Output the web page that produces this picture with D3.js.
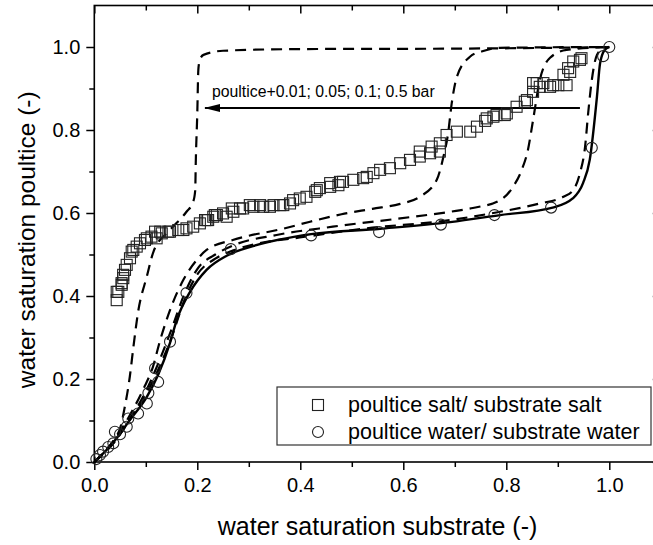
<!DOCTYPE html>
<html>
<head>
<meta charset="utf-8">
<script src="https://cdn.jsdelivr.net/npm/d3@7"></script>
<style>
html,body{margin:0;padding:0;background:#fff;}
text{font-family:"Liberation Sans",Arial,sans-serif;fill:#000;}
</style>
</head>
<body>
<svg id="chart" width="653" height="545"></svg>
<script>
// ---------- data ----------
const majorTicks = [0.0, 0.2, 0.4, 0.6, 0.8, 1.0];
const minorTicks = [0.1, 0.3, 0.5, 0.7, 0.9];
const tickLabels = ["0.0", "0.2", "0.4", "0.6", "0.8", "1.0"];

const xTitle = "water saturation substrate (-)";
const yTitle = "water saturation poultice (-)";
const legendLabels = ["poultice salt/ substrate salt", "poultice water/ substrate water"];
const annotation = "poultice+0.01; 0.05; 0.1; 0.5 bar";
const arrowFrom = [0.943, 0.853];
const arrowTo = [0.215, 0.853];

// poultice salt / substrate salt (squares)
const saltX = [0.0435,0.0466,0.0532,0.0563,0.0596,0.0629,0.0693,0.0726,0.0823,0.0887,0.0984,0.111,0.121,0.131,0.147,0.163,0.179,0.192,0.205,0.221,0.234,
  0.0435,0.053,0.056,0.0757,0.102,0.118,0.128,0.144,0.173,0.215,0.231,0.250,0.267,0.283,0.302,0.322,0.341,0.361,0.380,
  0.218,0.238,0.257,0.270,0.289,0.309,0.328,0.348,0.367,0.386,0.399,0.412,0.429,0.438,0.458,0.474,0.483,0.503,0.522,0.542,0.555,0.574,0.594,0.613,0.632,0.652,0.671,
  0.432,0.458,0.477,0.529,0.632,0.655,0.671,0.684,0.704,0.730,0.743,0.762,0.781,0.801,0.820,0.840,0.852,0.865,0.852,0.872,0.891,0.917,0.911,0.920,0.930,0.946,
  0.759,0.775,0.797,0.836,0.859,0.885,0.901,0.924,0.943];
const saltY = [0.390,0.410,0.427,0.443,0.463,0.475,0.491,0.507,0.519,0.527,0.535,0.543,0.539,0.551,0.555,0.559,0.563,0.567,0.575,0.583,0.595,
  0.410,0.431,0.451,0.511,0.539,0.555,0.555,0.555,0.559,0.583,0.591,0.599,0.611,0.611,0.619,0.619,0.615,0.619,0.623,
  0.583,0.595,0.591,0.603,0.611,0.615,0.615,0.619,0.619,0.631,0.635,0.639,0.651,0.660,0.663,0.667,0.675,0.680,0.684,0.696,0.704,0.708,0.720,0.728,0.736,0.744,0.748,
  0.655,0.672,0.675,0.687,0.748,0.760,0.768,0.788,0.796,0.796,0.808,0.828,0.836,0.840,0.856,0.872,0.892,0.904,0.913,0.913,0.908,0.908,0.933,0.949,0.965,0.973,
  0.822,0.832,0.836,0.868,0.913,0.904,0.908,0.940,0.969];

// poultice water / substrate water (circles)
const waterX = [0.004,0.011,0.017,0.027,0.037,0.040,0.050,0.063,0.066,0.085,0.102,0.105,0.118,0.124,0.147,0.179,0.265,0.421,0.553,0.673,0.777,0.887,0.966,0.988,1.0];
const waterY = [0.007,0.017,0.025,0.036,0.045,0.073,0.067,0.085,0.105,0.117,0.141,0.166,0.226,0.193,0.290,0.407,0.513,0.546,0.554,0.572,0.595,0.613,0.757,0.978,1.0];

// model: poultice water (solid)
const modelX = [0,0.036,0.069,0.102,0.124,0.147,0.16,0.186,0.218,0.257,0.308,0.421,0.555,0.691,0.788,0.89,0.929,0.949,0.962,0.976,0.982,0.991,1.0];
const modelY = [0,0.046,0.101,0.157,0.21,0.287,0.342,0.41,0.463,0.497,0.52,0.549,0.562,0.578,0.595,0.613,0.635,0.672,0.728,0.88,0.96,0.993,1.0];

// model: poultice + pressure (dashed), 0.5 / 0.1 / 0.05 / 0.01 bar
const dashA_X = [0,0.019,0.038,0.052,0.058,0.069,0.076,0.085,0.102,0.115,0.147,0.179,0.192,0.196,0.197,0.2,0.202,0.205,0.212,0.25,0.4,0.69,0.885,1.0];
const dashA_Y = [0,0.024,0.053,0.089,0.125,0.206,0.278,0.361,0.447,0.507,0.559,0.603,0.627,0.655,0.72,0.841,0.945,0.969,0.981,0.991,0.995,0.996,0.998,1.0];
const dashB_X = [0,0.04,0.07,0.095,0.114,0.128,0.147,0.173,0.199,0.218,0.269,0.366,0.419,0.48,0.54,0.594,0.632,0.665,0.678,0.687,0.694,0.704,0.73,0.752,0.788,1.0];
const dashB_Y = [0,0.055,0.115,0.175,0.23,0.294,0.366,0.439,0.487,0.511,0.535,0.562,0.579,0.597,0.61,0.622,0.639,0.68,0.736,0.792,0.864,0.928,0.977,0.989,0.998,1.0];
const dashC_X = [0,0.04,0.07,0.1,0.125,0.15,0.175,0.2,0.235,0.27,0.354,0.463,0.594,0.691,0.735,0.788,0.813,0.83,0.842,0.852,0.865,0.885,0.917,1.0];
const dashC_Y = [0,0.05,0.105,0.17,0.24,0.32,0.405,0.465,0.5,0.522,0.547,0.567,0.587,0.603,0.612,0.631,0.663,0.704,0.752,0.824,0.92,0.974,0.993,1.0];
const dashD_X = [0,0.04,0.07,0.1,0.125,0.15,0.175,0.2,0.235,0.27,0.32,0.399,0.529,0.691,0.775,0.865,0.911,0.93,0.943,0.953,0.959,0.966,0.976,0.99,1.0];
const dashD_Y = [0,0.05,0.105,0.162,0.225,0.3,0.39,0.452,0.49,0.51,0.527,0.541,0.563,0.583,0.6,0.623,0.639,0.655,0.696,0.76,0.841,0.92,0.981,0.998,1.0];

// ---------- chart ----------
const svg = d3.select("#chart");
const x = d3.scaleLinear().domain([0, 1.1]).range([94.3, 660.8]);
const y = d3.scaleLinear().domain([0, 1.1]).range([462, 5.5]);
const fmt = d => tickLabels[majorTicks.indexOf(d)] ?? "";

// frame
svg.append("rect").attr("x", x(0)).attr("y", y(1.1)).attr("width", x(1.1) - x(0)).attr("height", y(0) - y(1.1))
  .attr("fill", "none").attr("stroke", "#000").attr("stroke-width", 1.6);

function styleAxis(g) {
  g.select(".domain").remove();
  g.selectAll("line").attr("stroke", "#000").attr("stroke-width", 1.5);
  g.selectAll("text").attr("font-size", 20).attr("font-family", "Liberation Sans, Arial, sans-serif").attr("fill", "#000");
}
// bottom
svg.append("g").attr("transform", `translate(0,${y(0)})`)
  .call(d3.axisBottom(x).tickValues(majorTicks).tickSize(8).tickPadding(8).tickFormat(fmt)).call(styleAxis);
svg.append("g").attr("transform", `translate(0,${y(0)})`)
  .call(d3.axisBottom(x).tickValues(minorTicks).tickSize(5).tickFormat("")).call(styleAxis);
// left
svg.append("g").attr("transform", `translate(${x(0)},0)`)
  .call(d3.axisLeft(y).tickValues(majorTicks).tickSize(8).tickPadding(6).tickFormat(fmt)).call(styleAxis);
svg.append("g").attr("transform", `translate(${x(0)},0)`)
  .call(d3.axisLeft(y).tickValues(minorTicks).tickSize(5).tickFormat("")).call(styleAxis);
// top (inward)
svg.append("g").attr("transform", `translate(0,${y(1.1)})`)
  .call(d3.axisTop(x).tickValues(majorTicks).tickSize(-8).tickFormat("")).call(styleAxis);
svg.append("g").attr("transform", `translate(0,${y(1.1)})`)
  .call(d3.axisTop(x).tickValues(minorTicks).tickSize(-5).tickFormat("")).call(styleAxis);
// right (inward)
svg.append("g").attr("transform", `translate(${x(1.1)},0)`)
  .call(d3.axisRight(y).tickValues(majorTicks).tickSize(-8).tickFormat("")).call(styleAxis);
svg.append("g").attr("transform", `translate(${x(1.1)},0)`)
  .call(d3.axisRight(y).tickValues(minorTicks).tickSize(-5).tickFormat("")).call(styleAxis);

// titles
svg.append("text").attr("x", (x(0) + x(1.1)) / 2).attr("y", 535).attr("text-anchor", "middle")
  .attr("font-size", 25).text(xTitle);
svg.append("text").attr("transform", `translate(35,${(y(0) + y(1.1)) / 2 + 6}) rotate(-90)`).attr("text-anchor", "middle")
  .attr("font-size", 24.5).text(yTitle);

// curves
const line = d3.line().x(d => x(d[0])).y(d => y(d[1])).curve(d3.curveMonotoneX);
const zip = (a, b) => a.map((v, i) => [v, b[i]]);
const dashed = [[dashA_X, dashA_Y], [dashB_X, dashB_Y], [dashC_X, dashC_Y], [dashD_X, dashD_Y]];
svg.append("g").selectAll("path").data(dashed).join("path")
  .attr("d", d => line(zip(d[0], d[1])))
  .attr("fill", "none").attr("stroke", "#000").attr("stroke-width", 2.2).attr("stroke-dasharray", "11,7");
svg.append("path").attr("d", line(zip(modelX, modelY)))
  .attr("fill", "none").attr("stroke", "#000").attr("stroke-width", 2.4);

// arrow + annotation
svg.append("defs").append("marker").attr("id", "ah").attr("viewBox", "0 0 16 8").attr("refX", 15).attr("refY", 4)
  .attr("markerWidth", 16).attr("markerHeight", 8).attr("markerUnits", "userSpaceOnUse").attr("orient", "auto")
  .append("path").attr("d", "M0,0 L16,4 L0,8 Z").attr("fill", "#000");
svg.append("line").attr("x1", x(arrowFrom[0])).attr("y1", y(arrowFrom[1])).attr("x2", x(arrowTo[0])).attr("y2", y(arrowTo[1]))
  .attr("stroke", "#000").attr("stroke-width", 2).attr("marker-end", "url(#ah)");
svg.append("text").attr("x", 212).attr("y", 97).attr("font-size", 15.8).text(annotation);

// points
const sq = 11;
svg.append("g").selectAll("rect").data(zip(saltX, saltY)).join("rect")
  .attr("x", d => x(d[0]) - sq / 2).attr("y", d => y(d[1]) - sq / 2).attr("width", sq).attr("height", sq)
  .attr("fill", "none").attr("stroke", "#222").attr("stroke-width", 1.1);
svg.append("g").selectAll("circle").data(zip(waterX, waterY)).join("circle")
  .attr("cx", d => x(d[0])).attr("cy", d => y(d[1])).attr("r", 5.5)
  .attr("fill", "none").attr("stroke", "#222").attr("stroke-width", 1.1);

// legend
const lg = svg.append("g");
lg.append("rect").attr("x", 277).attr("y", 387).attr("width", 374).attr("height", 58)
  .attr("fill", "#fff").attr("stroke", "#333").attr("stroke-width", 1.2);
lg.append("rect").attr("x", 318 - 5.5).attr("y", 405 - 5.5).attr("width", 11).attr("height", 11)
  .attr("fill", "none").attr("stroke", "#222").attr("stroke-width", 1.1);
lg.append("circle").attr("cx", 318).attr("cy", 432).attr("r", 5.5)
  .attr("fill", "none").attr("stroke", "#222").attr("stroke-width", 1.1);
lg.selectAll("text.l").data(legendLabels).join("text").attr("class", "l")
  .attr("x", 348).attr("y", (d, i) => 412 + i * 27).attr("font-size", 21.5).text(d => d);
</script>
</body>
</html>
